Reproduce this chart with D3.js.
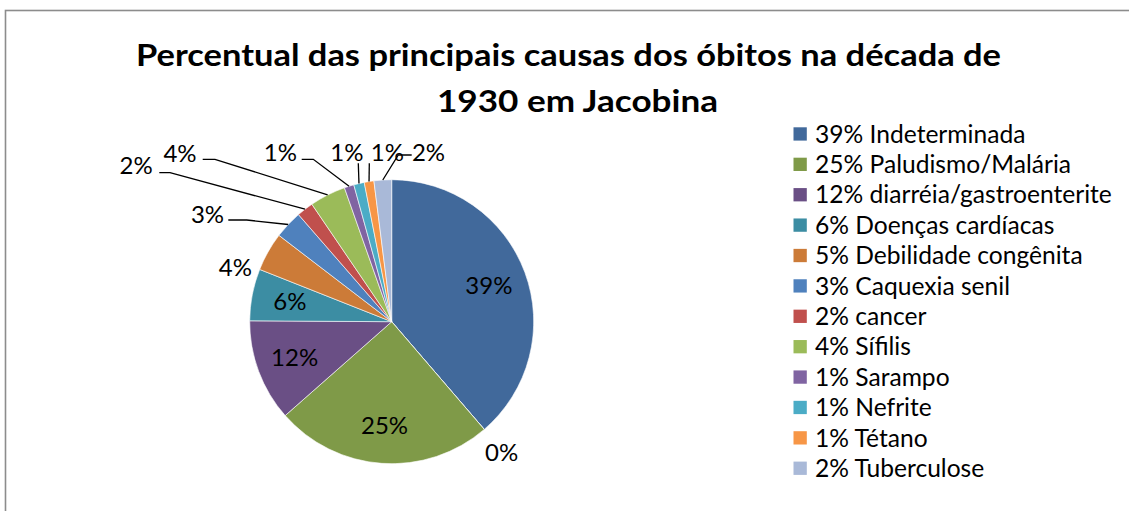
<!DOCTYPE html>
<html>
<head>
<meta charset="utf-8">
<script src="https://cdn.jsdelivr.net/npm/d3@7"></script>
<style>
  html, body { margin: 0; background: #fff; overflow: hidden; }
  svg { display: block; }
  text { font-family: Lato, "Open Sans", sans-serif; fill: #000; }
</style>
</head>
<body>
<svg id="chart" width="1129" height="511"></svg>
<script>
// causes, in the order Excel draws them (clockwise from 12 o'clock)
const causes = ['Indeterminada', '', 'Paludismo/Malária', 'diarréia/gastroenterite', 'Doenças cardíacas',
  'Debilidade congênita', 'Caquexia senil', 'cancer', 'Sífilis', 'Sarampo', 'Nefrite', 'Tétano', 'Tuberculose'];
// share of deaths (%)
const shares = [38.7, 0, 24.8, 11.6, 5.9, 4.4, 3.2, 1.9, 4.1, 1.1, 1.2, 1.1, 2.0];
// labels typed in the legend
const legendLabels = ['39% Indeterminada', '25% Paludismo/Malária', '12% diarréia/gastroenterite',
  '6% Doenças cardíacas', '5% Debilidade congênita', '3% Caquexia senil', '2% cancer', '4% Sífilis',
  '1% Sarampo', '1% Nefrite', '1% Tétano', '2% Tuberculose'];
const colors = ['#41699b', '#41699b', '#7f9a48', '#6a4f85', '#3c8da3', '#cc7b38', '#4f81bd',
  '#c0504d', '#9bbb59', '#8064a2', '#4bacc6', '#f79646', '#a9b9d8'];

const svg = d3.select('#chart');
const W = 1129, H = 511;

svg.append('rect')
  .attr('x', 5.5).attr('y', 10.5)
  .attr('width', W + 20).attr('height', H + 20)
  .attr('fill', '#fff')
  .attr('stroke', '#8c8c8c')
  .attr('stroke-width', 1.6);

// title, stretched to the width of the original Calibri lines
const titleLines = [
  { text: 'Percentual das principais causas dos óbitos na década de', x: 136, y: 66, w: 865 },
  { text: '1930 em Jacobina', x: 437, y: 111.5, w: 281 }
];
svg.selectAll('text.title')
  .data(titleLines)
  .enter()
  .append('text')
  .classed('title', true)
  .attr('x', d => d.x)
  .attr('y', d => d.y)
  .attr('textLength', d => d.w)
  .attr('lengthAdjust', 'spacingAndGlyphs')
  .style('font-weight', 'bold')
  .style('font-size', '30px')
  .text(d => d.text);

// pie
const cx = 391.7, cy = 321.7, R = 142;
const total = d3.sum(shares);
const pie = d3.pie().sort(null).value(d => d)(shares);
const arc = d3.arc().innerRadius(0).outerRadius(R);
const inArc = d3.arc().innerRadius(R * 0.73).outerRadius(R * 0.73);
const rimArc = d3.arc().innerRadius(R).outerRadius(R);

const g = svg.append('g').attr('transform', `translate(${cx},${cy})`);

g.selectAll('path.slice')
  .data(pie)
  .enter()
  .append('path')
  .classed('slice', true)
  .attr('d', arc)
  .attr('fill', (d, i) => colors[i])
  .attr('stroke', '#fff')
  .attr('stroke-width', 0.6);

const pct = d => Math.round(d.value / total * 100) + '%';

// labels inside the big slices
g.selectAll('text.inside')
  .data(pie.filter(d => d.value >= 5))
  .enter()
  .append('text')
  .classed('inside', true)
  .attr('transform', d => `translate(${inArc.centroid(d)})`)
  .attr('text-anchor', 'middle')
  .attr('dy', '0.35em')
  .style('font-size', '24px')
  .text(pct);

// outside label placement (page coords): label centre, leader start, elbow x
const outside = [
  { i: 1, x: 501.7, y: 452.7 },
  { i: 5, x: 235.3, y: 268 },
  { i: 6, x: 207.5, y: 215, sx: 228.3, sy: 220, ex: 246.7 },
  { i: 7, x: 136.2, y: 166, sx: 159.3, sy: 172.7, ex: 170 },
  { i: 8, x: 180, y: 153.3, sx: 202.7, sy: 159.3, ex: 215 },
  { i: 9, x: 280.3, y: 153, sx: 301.7, sy: 159.3, ex: 313.3 },
  { i: 10, x: 346.8, y: 153, sx: 358.3, sy: 163.3 },
  { i: 11, x: 387.3, y: 153, sx: 369.3, sy: 163.3 },
  { i: 12, x: 428.5, y: 153, sx: 411.7, sy: 155, ex: 398.3 }
];

svg.selectAll('path.leader')
  .data(outside.filter(o => o.sx !== undefined))
  .enter()
  .append('path')
  .classed('leader', true)
  .attr('fill', 'none')
  .attr('stroke', '#000')
  .attr('stroke-width', 1.3)
  .attr('d', o => {
    const p = rimArc.centroid(pie[o.i]);
    const pts = [[o.sx, o.sy]];
    if (o.ex !== undefined) pts.push([o.ex, o.sy]);
    pts.push([cx + p[0], cy + p[1]]);
    return d3.line()(pts);
  });

svg.selectAll('text.outside')
  .data(outside)
  .enter()
  .append('text')
  .classed('outside', true)
  .attr('x', o => o.x)
  .attr('y', o => o.y)
  .attr('text-anchor', 'middle')
  .attr('dy', '0.35em')
  .style('font-size', '24px')
  .text(o => pct(pie[o.i]));

// legend
const legendY = d3.scalePoint().domain(legendLabels).range([134, 468.3]);
const legendColors = colors.filter((c, i) => i !== 1);

const lg = svg.append('g').selectAll('g')
  .data(legendLabels)
  .enter()
  .append('g')
  .attr('transform', d => `translate(0,${legendY(d)})`);

lg.append('rect')
  .attr('x', 793.5).attr('y', -6.7)
  .attr('width', 13.3).attr('height', 13.3)
  .attr('fill', (d, i) => legendColors[i]);

lg.append('text')
  .attr('x', 815)
  .attr('dy', '0.35em')
  .style('font-size', '24.6px')
  .text(d => d);
</script>
</body>
</html>
